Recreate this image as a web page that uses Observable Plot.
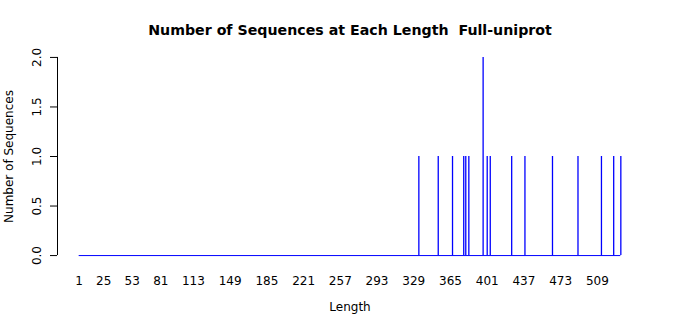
<!DOCTYPE html>
<html>
<head>
<meta charset="utf-8">
<script src="https://cdn.jsdelivr.net/npm/d3@7"></script>
<script src="https://cdn.jsdelivr.net/npm/@observablehq/plot@0.6"></script>
<style>
  html, body { margin: 0; padding: 0; background: #fff; }
  #chart svg { display: block; }
</style>
</head>
<body>
<div id="chart"></div>
<script>
// ---- data ----
const lengths = [334, 353, 367, 378, 380, 383, 397, 401, 404, 425, 438, 465, 490, 513, 525, 532];
const counts  = [1,   1,   1,   1,   1,   1,   2,   1,   1,   1,   1,   1,   1,   1,   1,   1];
const lengthRange = [1, 532];
const xTickLabels = [1, 25, 53, 81, 113, 149, 185, 221, 257, 293, 329, 365, 401, 437, 473, 509];
const yTicks = [0, 0.5, 1, 1.5, 2];
const title = "Number of Sequences at Each Length  Full-uniprot";
const xTitle = "Length";
const yTitle = "Number of Sequences";

const spikes = lengths.map((l, i) => ({length: l, count: counts[i]}));

// R-style 4% padding of the axis ranges
const xPad = (lengthRange[1] - lengthRange[0]) * 0.04;
const xDomain = [lengthRange[0] - xPad, lengthRange[1] + xPad];
const yMax = d3.max(counts);
const yDomain = [-yMax * 0.04, yMax * 1.04];

const font = "'DejaVu Sans', sans-serif";

const chart = Plot.plot({
  width: 700,
  height: 315,
  marginLeft: 57,
  marginRight: 58,
  marginTop: 49,
  marginBottom: 52,
  style: {fontFamily: font, fontSize: "12px", color: "#000", background: "#fff"},
  x: {domain: xDomain, axis: null},
  y: {domain: yDomain, axis: null},
  marks: [
    // baseline across all lengths (zero counts)
    Plot.ruleY([{y: 0, x1: lengthRange[0], x2: lengthRange[1]}], {y: "y", x1: "x1", x2: "x2", stroke: "#0000ff", strokeWidth: 1}),
    // spikes
    Plot.ruleX(spikes, {x: "length", y1: 0, y2: "count", stroke: "#0000ff", strokeWidth: 1.3}),
    // y axis line
    Plot.ruleX([{x: xDomain[0], y1: yTicks[0], y2: yTicks[yTicks.length - 1]}], {x: "x", y1: "y1", y2: "y2", stroke: "#000", strokeWidth: 1}),
    // y axis ticks
    Plot.axisY({ticks: yTicks, tickSize: 7, tickFormat: () => "", label: null, anchor: "left", stroke: "#000"}),
    // y tick labels (rotated)
    Plot.text(yTicks, {y: d => d, text: d => d.toFixed(1), frameAnchor: "left", textAnchor: "middle", lineAnchor: "middle", dx: -20.5, rotate: -90, fontSize: 12, fill: "#000"}),
    // x tick labels
    Plot.text(xTickLabels, {x: d => d, text: d => String(d), frameAnchor: "bottom", textAnchor: "middle", lineAnchor: "middle", dy: 18, fontSize: 12, fill: "#000"}),
    // x title
    Plot.text([xTitle], {frameAnchor: "bottom", textAnchor: "middle", lineAnchor: "middle", dy: 44, fontSize: 12, fill: "#000"}),
    // y title
    Plot.text([yTitle], {frameAnchor: "left", textAnchor: "middle", lineAnchor: "middle", dx: -48.5, rotate: -90, fontSize: 12, fill: "#000"}),
    // main title
    Plot.text([title], {frameAnchor: "top", textAnchor: "middle", lineAnchor: "middle", dy: -19, fontSize: 14.2, fontWeight: "bold", fill: "#000"})
  ]
});

document.getElementById("chart").appendChild(chart);
</script>
</body>
</html>
